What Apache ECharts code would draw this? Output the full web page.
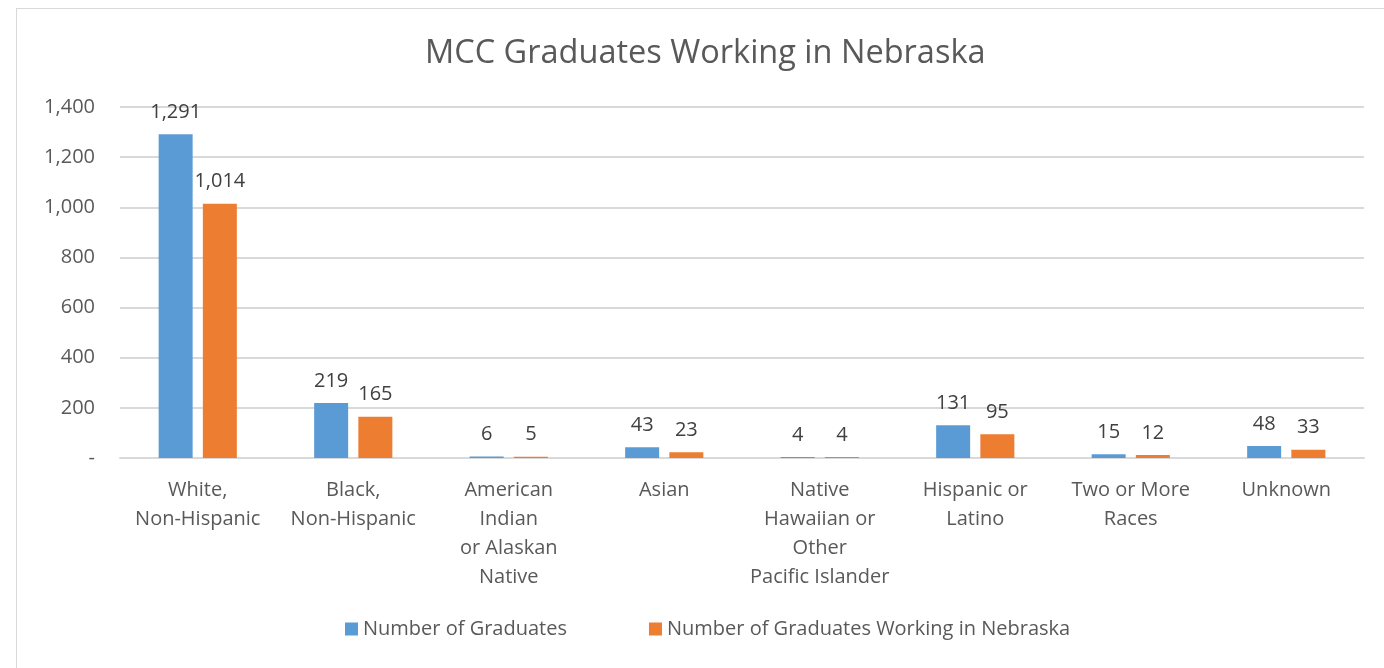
<!DOCTYPE html>
<html>
<head>
<meta charset="utf-8">
<script src="https://cdn.jsdelivr.net/npm/echarts@6/dist/echarts.min.js"></script>
<style>
  body { margin: 0; background: #fff; }
  #frame { position: absolute; left: 16px; top: 8px; width: 1380px; height: 680px; border: 1px solid #d9d9d9; }
  #chart { position: absolute; left: 0; top: 0; width: 1384px; height: 668px; }
</style>
</head>
<body>
<div id="frame"></div>
<div id="chart"></div>
<script>
// data
var categories = ['White,\nNon-Hispanic', 'Black,\nNon-Hispanic', 'American\nIndian\nor Alaskan\nNative', 'Asian',
  'Native\nHawaiian or\nOther\nPacific Islander', 'Hispanic or\nLatino', 'Two or More\nRaces', 'Unknown'];
var graduates = [1291, 219, 6, 43, 4, 131, 15, 48];
var workingInNebraska = [1014, 165, 5, 23, 4, 95, 12, 33];
var seriesNames = ['Number of Graduates', 'Number of Graduates Working in Nebraska'];

var textColor = '#595959';
var font = 'Open Sans';

function fmt(v) {
  if (v === 0) return '-';
  return v.toLocaleString('en-US');
}

var myChart = echarts.init(document.getElementById('chart'));
var labelStyle = {
  show: true,
  position: 'top',
  distance: 12,
  color: '#404040',
  fontSize: 20,
  fontFamily: font,
  formatter: function (p) { return fmt(p.value); }
};

var option = {
  animation: false,
  title: {
    text: 'MCC Graduates Working in Nebraska',
    left: 420,
    top: 32,
    textStyle: { color: textColor, fontSize: 32.5, fontWeight: 'normal', fontFamily: font }
  },
  legend: {
    data: seriesNames,
    bottom: 24,
    left: 340,
    itemWidth: 13,
    itemHeight: 13,
    itemGap: 82,
    icon: 'rect',
    textStyle: { color: textColor, fontSize: 20, fontFamily: font }
  },
  grid: { left: 120, right: 20, top: 107, bottom: 210 },
  xAxis: {
    type: 'category',
    data: categories,
    axisLine: { lineStyle: { color: '#d9d9d9', width: 2 } },
    axisTick: { show: false },
    axisLabel: {
      color: textColor, fontSize: 20, fontFamily: font, lineHeight: 29,
      margin: 18, interval: 0
    }
  },
  yAxis: {
    type: 'value',
    min: 0,
    max: 1400,
    interval: 200,
    axisLine: { show: false },
    axisTick: { show: false },
    splitLine: { lineStyle: { color: '#d9d9d9', width: 2 } },
    axisLabel: {
      color: textColor, fontSize: 20, fontFamily: font, margin: 25,
      formatter: fmt
    }
  },
  series: [{
    name: seriesNames[0],
    type: 'bar',
    data: graduates,
    barWidth: 34,
    barGap: '30%',
    itemStyle: { color: '#5b9bd5' },
    label: labelStyle
  }, {
    name: seriesNames[1],
    type: 'bar',
    data: workingInNebraska,
    barWidth: 34,
    barGap: '30%',
    itemStyle: { color: '#ed7d31' },
    label: labelStyle
  }]
};

myChart.setOption(option);
</script>
</body>
</html>
